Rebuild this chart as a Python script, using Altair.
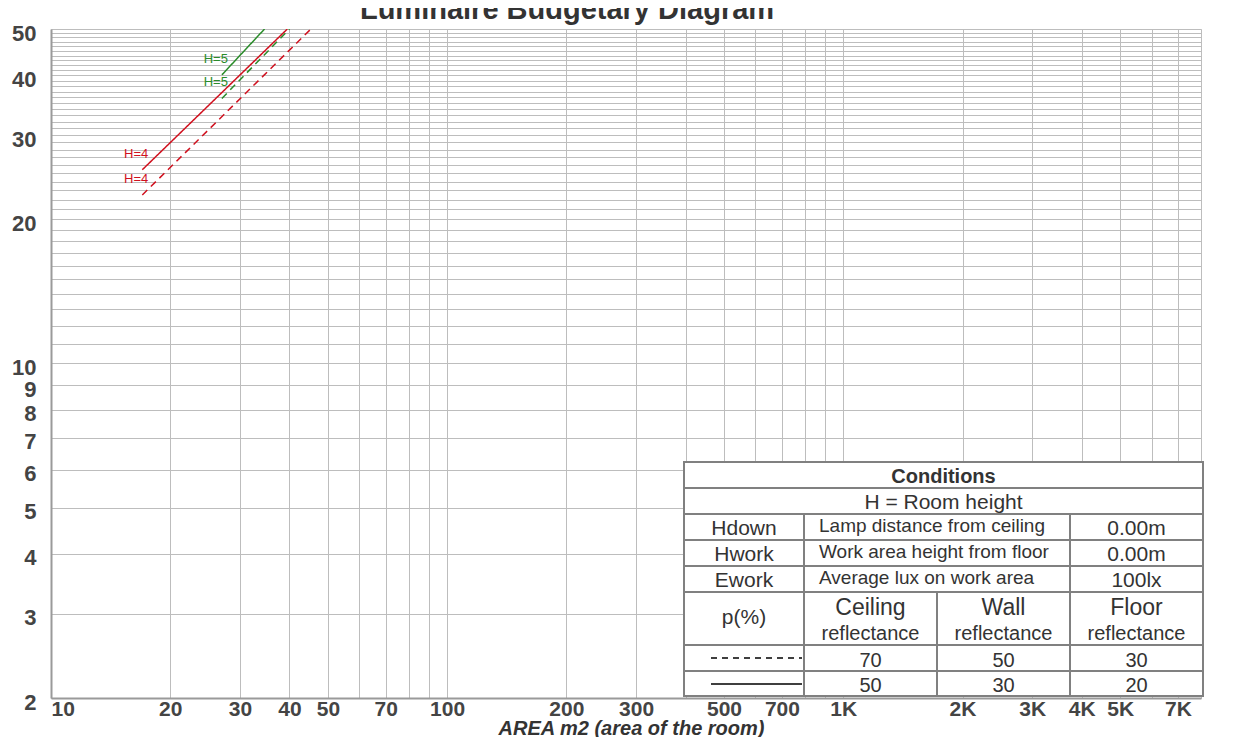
import altair as alt
import pandas as pd

# ---------------- data ----------------
TITLE = "Luminaire Budgetary Diagram"
X_TITLE = "AREA m2 (area of the room)"

# (area m2, number of luminaires) end points of each straight log-log line
area_h4_solid = [17.0, 39.5]
lum_h4_solid = [25.4, 50.0]
area_h4_dashed = [17.0, 45.3]
lum_h4_dashed = [22.5, 50.0]
area_h5_solid = [27.0, 34.6]
lum_h5_solid = [40.1, 50.0]
area_h5_dashed = [27.0, 40.0]
lum_h5_dashed = [35.8, 50.0]

heights = ["H=4", "H=5"]
refl_sets = ["70/50/30", "50/30/20"]  # dashed, solid

x_grid_values = [10, 20, 30, 40, 50, 60, 70, 80, 90,
                 100, 200, 300, 400, 500, 600, 700, 800, 900,
                 1000, 2000, 3000, 4000, 5000, 6000, 7000, 8000]
x_label_values = [10, 20, 30, 40, 50, 70, 100, 200, 300, 500, 700,
                  1000, 2000, 3000, 4000, 5000, 7000]
x_label_texts = ["10", "20", "30", "40", "50", "70", "100", "200", "300", "500", "700",
                 "1K", "2K", "3K", "4K", "5K", "7K"]
y_grid_values = [2, 3, 4, 5, 6, 7, 8, 9, 10, 11, 12, 13, 14, 15, 16, 17, 18, 19, 20,
                 21, 22, 23, 24, 25, 26, 27, 28, 29, 30, 31, 32, 33, 34, 35, 36, 37, 38,
                 39, 40, 41, 42, 43, 44, 45, 46, 47, 48, 49, 50]
y_label_values = [2, 3, 4, 5, 6, 7, 8, 9, 10, 20, 30, 40, 50]
y_label_texts = ["2", "3", "4", "5", "6", "7", "8", "9", "10", "20", "30", "40", "50"]

# conditions table text
cond_header = "Conditions"
cond_sub = "H = Room height"
param_names = ["Hdown", "Hwork", "Ework"]
param_desc = ["Lamp distance from ceiling", "Work area height from floor", "Average lux on work area"]
param_values = ["0.00m", "0.00m", "100lx"]
refl_header = "p(%)"
refl_surfaces = ["Ceiling", "Wall", "Floor"]
refl_word = "reflectance"
refl_dashed_vals = ["70", "50", "30"]
refl_solid_vals = ["50", "30", "20"]

# ---------------- styling / layout ----------------
FONT = "Liberation Sans"
W, H = 1150, 669
RED, GREEN = "#d0101e", "#2a8c2a"
TXT = "#333333"
GRID = "#bdbdbd"
BORDER = "#808080"

# table geometry (plot pixel coordinates)
TX0, TX1 = 633, 1152
ROWS = [433, 459, 485, 511, 537, 563, 616, 642, 667]
C3 = [633, 753, 1019, 1152]
C4 = [633, 753, 886, 1019, 1152]

# ---------------- build data tables ----------------
rows = []
for (h, r, xs, ys) in [
    ("H=4", "50/30/20", area_h4_solid, lum_h4_solid),
    ("H=4", "70/50/30", area_h4_dashed, lum_h4_dashed),
    ("H=5", "50/30/20", area_h5_solid, lum_h5_solid),
    ("H=5", "70/50/30", area_h5_dashed, lum_h5_dashed),
]:
    for i, (xv, yv) in enumerate(zip(xs, ys)):
        rows.append({"series": h + " " + r, "height": h, "refl": r,
                     "area": xv, "lum": yv, "first": i == 0})
df = pd.DataFrame(rows)
df_lab = df[df["first"]].copy()


def label_expr(values, texts):
    parts = [f"datum.value == {v} ? '{t}'" for v, t in zip(values, texts)]
    return " : ".join(parts) + " : ''"


xscale = alt.Scale(type="log", domain=[10, 8000], nice=False)
yscale = alt.Scale(type="log", domain=[2, 50], nice=False)
color = alt.Color("height:N", scale=alt.Scale(domain=heights, range=[RED, GREEN]), legend=None)
dash = alt.StrokeDash("refl:N", scale=alt.Scale(domain=refl_sets, range=[[7, 5], [1, 0]]), legend=None)

lines = alt.Chart(df).mark_line(strokeWidth=1.5, clip=True).encode(
    x=alt.X("area:Q", scale=xscale, axis=alt.Axis(
        values=x_grid_values, labelExpr=label_expr(x_label_values, x_label_texts),
        title=X_TITLE, titleFont=FONT, titleFontSize=20, titleFontWeight="bold",
        titleFontStyle="italic", titleColor=TXT, titleY=36, titleBaseline="alphabetic",
        titleX=W / 2 + 5,
        labelFont=FONT, labelFontSize=21, labelFontWeight="bold", labelColor="#444444",
        labelPadding=17, labelBaseline="alphabetic", labelOverlap=False, labelFlush=True,
        ticks=False, tickSize=0, grid=True, gridColor=GRID, gridWidth=1,
        domain=True, domainColor="#9a9a9a", domainWidth=2)),
    y=alt.Y("lum:Q", scale=yscale, axis=alt.Axis(
        values=y_grid_values, labelExpr=label_expr(y_label_values, y_label_texts),
        title=None,
        labelFont=FONT, labelFontSize=22, labelFontWeight="bold", labelColor="#444444",
        labelPadding=15, labelBaseline="middle", labelOffset=4, labelOverlap=False,
        labelFlush=False, ticks=False, tickSize=0, grid=True, gridColor=GRID, gridWidth=1,
        domain=True, domainColor="#9a9a9a", domainWidth=2)),
    color=color, strokeDash=dash, detail="series:N",
)

labels = alt.Chart(df_lab).mark_text(
    align="right", baseline="middle", dx=6, dy=-16, fontSize=13, font=FONT
).encode(
    x=alt.X("area:Q", scale=xscale),
    y=alt.Y("lum:Q", scale=yscale),
    color=color, text="height:N",
)

data_layer = alt.layer(lines, labels)

# ---------------- conditions table + chart title ----------------
box = pd.DataFrame([{"x": TX0, "x2": TX1, "y": ROWS[0], "y2": ROWS[-1]}])
rules = []
for yv in ROWS[1:-1]:
    rules.append({"x": TX0, "x2": TX1, "y": yv, "y2": yv})
rules.append({"x": C3[1], "x2": C3[1], "y": ROWS[2], "y2": ROWS[-1]})
rules.append({"x": C3[2], "x2": C3[2], "y": ROWS[2], "y2": ROWS[-1]})
rules.append({"x": C4[2], "x2": C4[2], "y": ROWS[5], "y2": ROWS[-1]})
df_rules = pd.DataFrame(rules)

cx_full = (TX0 + TX1) / 2
c3 = [(C3[i] + C3[i + 1]) / 2 for i in range(3)]
c4 = [(C4[i] + C4[i + 1]) / 2 for i in range(4)]
name_base = [506, 532, 558]
desc_base = [503, 529, 555]

center_txt = [{"t": cond_sub, "x": cx_full, "y": 480, "s": 21}]
for i in range(3):
    center_txt.append({"t": param_names[i], "x": c3[0], "y": name_base[i], "s": 21})
    center_txt.append({"t": param_values[i], "x": c3[2], "y": name_base[i], "s": 21})
center_txt.append({"t": refl_header, "x": c4[0], "y": 595, "s": 21})
for i in range(3):
    center_txt.append({"t": refl_surfaces[i], "x": c4[i + 1], "y": 586, "s": 23})
    center_txt.append({"t": refl_word, "x": c4[i + 1], "y": 611, "s": 20})
    center_txt.append({"t": refl_dashed_vals[i], "x": c4[i + 1], "y": 638, "s": 20})
    center_txt.append({"t": refl_solid_vals[i], "x": c4[i + 1], "y": 663, "s": 20})
df_center = pd.DataFrame(center_txt)
df_bold = pd.DataFrame([
    {"t": cond_header, "x": cx_full, "y": 454, "s": 20},
    {"t": TITLE, "x": 516, "y": -10, "s": 29},
])
df_left = pd.DataFrame([{"t": param_desc[i], "x": C3[1] + 15, "y": desc_base[i], "s": 19}
                        for i in range(3)])
df_samples = pd.DataFrame([
    {"refl": refl_sets[0], "x": 660, "x2": 751, "y": 629},
    {"refl": refl_sets[1], "x": 660, "x2": 751, "y": 655},
])

PX = alt.X("x:Q", scale=None, axis=None)
PY = alt.Y("y:Q", scale=None, axis=None)

t_box = alt.Chart(box).mark_rect(fill="white", stroke=BORDER, strokeWidth=2).encode(
    x=PX, x2="x2:Q", y=PY, y2="y2:Q")
t_rules = alt.Chart(df_rules).mark_rule(color=BORDER, strokeWidth=2).encode(
    x=PX, x2="x2:Q", y=PY, y2="y2:Q")
t_center = alt.Chart(df_center).mark_text(
    align="center", baseline="alphabetic", font=FONT, color=TXT).encode(
    x=PX, y=PY, text="t:N", size=alt.Size("s:Q", scale=None))
t_bold = alt.Chart(df_bold).mark_text(
    align="center", baseline="alphabetic", font=FONT, fontWeight="bold", color=TXT).encode(
    x=PX, y=PY, text="t:N", size=alt.Size("s:Q", scale=None))
t_left = alt.Chart(df_left).mark_text(
    align="left", baseline="alphabetic", font=FONT, color=TXT).encode(
    x=PX, y=PY, text="t:N", size=alt.Size("s:Q", scale=None))
t_samples = alt.Chart(df_samples).mark_rule(color="black", strokeWidth=1.5).encode(
    x=PX, x2="x2:Q", y=PY,
    strokeDash=alt.StrokeDash("refl:N", scale=alt.Scale(domain=refl_sets, range=[[6, 5], [1, 0]]),
                              legend=None))

table_layer = alt.layer(t_box, t_rules, t_center, t_bold, t_left, t_samples)

chart = alt.layer(data_layer, table_layer).resolve_scale(
    x="independent", y="independent", strokeDash="independent"
).properties(
    width=W, height=H,
    autosize=alt.AutoSizeParams(type="none"),
    padding={"left": 43, "top": 21, "right": 28, "bottom": 39},
).configure_view(
    stroke="#a8a8a8", strokeWidth=1.5
).configure(font=FONT)

chart.save("out.html", embed_options={"renderer": "svg", "actions": False})
